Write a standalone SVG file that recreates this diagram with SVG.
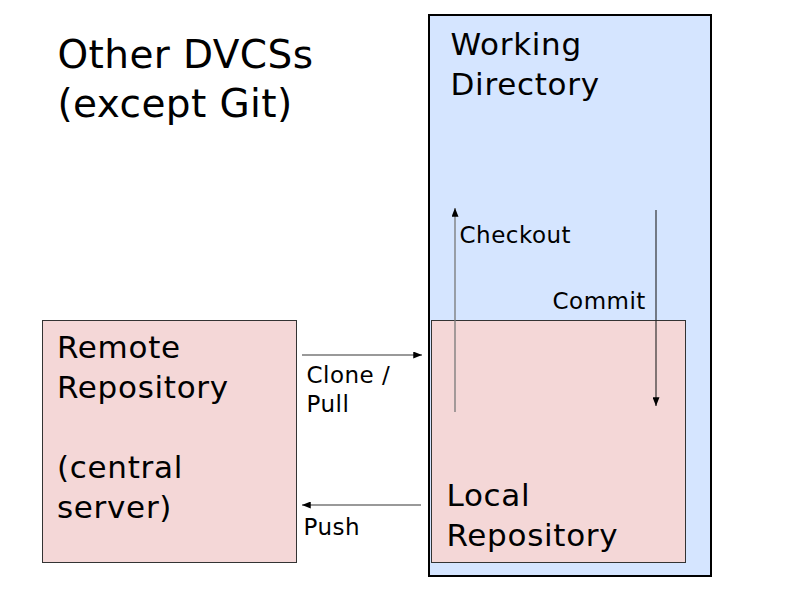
<svg xmlns="http://www.w3.org/2000/svg" width="800" height="600" viewBox="0 0 800 600">
<style>
text{font-family:"DejaVu Sans",sans-serif;fill:#000}
.big{font-size:31px;letter-spacing:0.7px}
.title{font-size:39px;letter-spacing:0.4px}
.lbl{font-size:23px;letter-spacing:0.5px}
.box{fill:#f4d7d7;stroke:#333;stroke-width:1}
.wd{fill:#d5e5ff;stroke:#000;stroke-width:2}
.ln{stroke:#777;stroke-width:1.3;fill:none}
.lnd{stroke:#222;stroke-width:1.1;fill:none}
</style>
<defs>
<marker id="ah" viewBox="0 0 10 8" refX="10" refY="4" markerWidth="9" markerHeight="7" markerUnits="userSpaceOnUse" orient="auto">
<path d="M0,0 L10,4 L0,8 z" fill="#000"/>
</marker>
</defs>
<rect width="800" height="600" fill="#fff"/>
<g id="title">
<text class="title" x="57.5" y="68">Other DVCSs</text>
<text class="title" x="57.5" y="117">(except Git)</text>
</g>
<g id="working-directory">
<rect class="wd" x="429" y="15" width="282" height="561"/>
<text class="big" x="450.5" y="55">Working</text>
<text class="big" x="450.5" y="95">Directory</text>
</g>
<g id="local-repository">
<rect class="box" x="431.5" y="320.5" width="254" height="242"/>
<text class="big" x="446.5" y="506">Local</text>
<text class="big" x="446.5" y="546">Repository</text>
</g>
<g id="remote-repository">
<rect class="box" x="42.5" y="320.5" width="254" height="242"/>
<text class="big" x="57" y="358">Remote</text>
<text class="big" x="57" y="398">Repository</text>
<text class="big" x="57" y="478">(central</text>
<text class="big" x="57" y="518">server)</text>
</g>
<g id="connectors">
<line class="ln" x1="302" y1="355" x2="422" y2="355" marker-end="url(#ah)"/>
<line class="ln" x1="421" y1="505" x2="302" y2="505" marker-end="url(#ah)"/>
<line class="ln" x1="455" y1="412" x2="455" y2="208" marker-end="url(#ah)"/>
<line class="lnd" x1="656" y1="210" x2="656" y2="406" marker-end="url(#ah)"/>
<text class="lbl" x="306.5" y="383">Clone /</text>
<text class="lbl" x="306.5" y="412">Pull</text>
<text class="lbl" x="303.5" y="535">Push</text>
<text class="lbl" x="459.5" y="243">Checkout</text>
<text class="lbl" x="552.5" y="309">Commit</text>
</g>
</svg>
